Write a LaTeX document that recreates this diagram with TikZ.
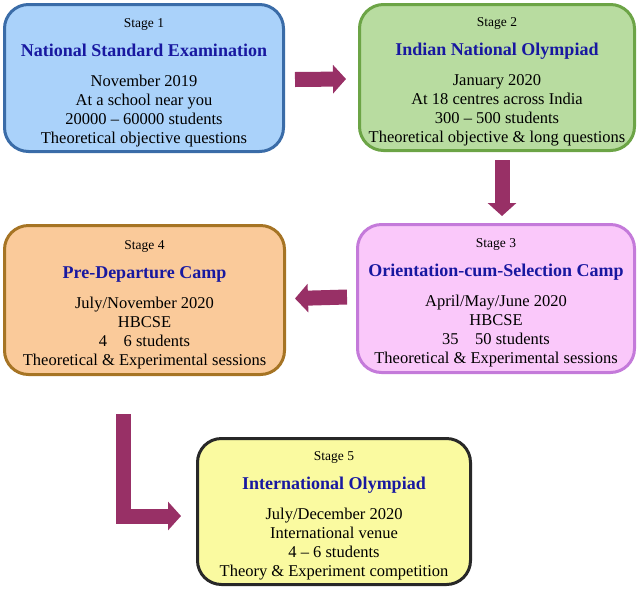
\documentclass[tikz,border=0pt]{standalone}
\usepackage{fontspec}
\setmainfont{Liberation Serif}
\usetikzlibrary{arrows.meta}

\definecolor{arrowred}{RGB}{152,48,102}
\definecolor{titleblue}{RGB}{24,24,160}
\definecolor{blueFill}{RGB}{170,210,250}
\definecolor{blueLine}{RGB}{58,108,168}
\definecolor{greenFill}{RGB}{184,220,160}
\definecolor{greenLine}{RGB}{108,164,70}
\definecolor{pinkFill}{RGB}{250,200,250}
\definecolor{pinkLine}{RGB}{196,122,218}
\definecolor{orangeFill}{RGB}{250,202,154}
\definecolor{orangeLine}{RGB}{166,116,36}
\definecolor{yellowFill}{RGB}{250,250,160}
\definecolor{yellowLine}{RGB}{40,40,40}

\newcommand{\stagename}[1]{{\rule{0pt}{18pt}\fontsize{13.5}{19}\selectfont #1}}
\newcommand{\stagetitle}[1]{{\fontsize{18}{19}\selectfont\bfseries\color{titleblue}#1}}

\begin{document}
\begin{tikzpicture}[x=1pt,y=-1pt,
   stagebox/.style={draw, line width=3pt, rounded corners=24pt, align=center,
      inner sep=0pt, font=\fontsize{16.5}{19}\selectfont},
   bigarrow/.style={arrowred, line width=15pt, line join=miter,
      -{Triangle[width=28pt,length=13pt]}}]
   \useasboundingbox (0,0) rectangle (640,590);
   % stages
   \node [stagebox, fill=blueFill, draw=blueLine, minimum width=279, minimum height=147] (s1) at (144,78)
      {\stagename{Stage 1}\\[10pt]\stagetitle{National Standard Examination}\\[11pt]
       November 2019\\At a school near you\\20000 -- 60000 students\\Theoretical objective questions};
   \node [stagebox, fill=greenFill, draw=greenLine, minimum width=275, minimum height=146] (s2) at (497,77.5)
      {\stagename{Stage 2}\\[10pt]\stagetitle{Indian National Olympiad}\\[11pt]
       January 2020\\At 18 centres across India\\300 -- 500 students\\Theoretical objective \& long questions};
   \node [stagebox, fill=pinkFill, draw=pinkLine, minimum width=277, minimum height=148] (s3) at (496,298.5)
      {\stagename{Stage 3}\\[10pt]\stagetitle{Orientation-cum-Selection Camp}\\[11pt]
       April/May/June 2020\\HBCSE\\35\hspace{1em}50 students\\Theoretical \& Experimental sessions};
   \node [stagebox, fill=orangeFill, draw=orangeLine, minimum width=280, minimum height=149] (s4) at (144.5,300)
      {\stagename{Stage 4}\\[10pt]\stagetitle{Pre-Departure Camp}\\[11pt]
       July/November 2020\\HBCSE\\4\hspace{1em}6 students\\Theoretical \& Experimental sessions};
   \node [stagebox, fill=yellowFill, draw=yellowLine, minimum width=273, minimum height=146] (s5) at (334,511.5)
      {\stagename{Stage 5}\\[10pt]\stagetitle{International Olympiad}\\[11pt]
       July/December 2020\\International venue\\4 -- 6 students\\Theory \& Experiment competition};
   % arrows
   \coordinate (bend) at (123,516);
   \coordinate (lstart) at ([yshift=-38pt]s4.south -| bend);
   \coordinate (lend) at ([xshift=-15pt]s5.west |- bend);
   \draw [bigarrow] ([xshift=10pt,yshift=-1.5pt]s1.east) -- ([xshift=-12pt,yshift=-1.5pt]s2.west);
   \draw [bigarrow] ([xshift=5pt,yshift=-8pt]s2.south) -- ([xshift=6pt,yshift=7pt]s3.north);
   \draw [bigarrow] ([xshift=-9pt,yshift=1.5pt]s3.west) -- ([xshift=9pt,yshift=1.5pt]s4.west -| s4.east);
   \draw [bigarrow] (lstart) -- (bend) -- (lend);
\end{tikzpicture}
\end{document}
